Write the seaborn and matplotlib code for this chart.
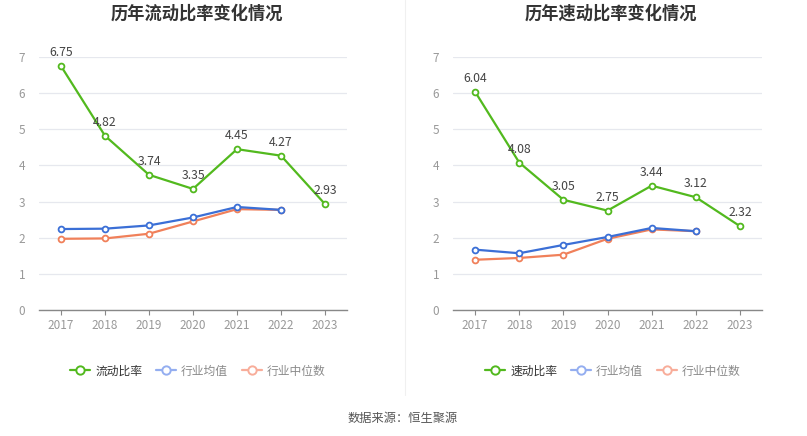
import matplotlib
matplotlib.use("Agg")
import matplotlib.pyplot as plt
from matplotlib.lines import Line2D
import seaborn as sns
import numpy as np

years = ["2017", "2018", "2019", "2020", "2021", "2022", "2023"]

current_ratio = [6.75, 4.82, 3.74, 3.35, 4.45, 4.27, 2.93]
current_ind_mean = [2.24, 2.25, 2.34, 2.56, 2.85, 2.77, np.nan]
current_ind_median = [1.97, 1.98, 2.11, 2.45, 2.79, 2.77, np.nan]

quick_ratio = [6.04, 4.08, 3.05, 2.75, 3.44, 3.12, 2.32]
quick_ind_mean = [1.67, 1.57, 1.80, 2.02, 2.27, 2.18, np.nan]
quick_ind_median = [1.39, 1.44, 1.53, 1.97, 2.23, 2.18, np.nan]

titles = ["历年流动比率变化情况", "历年速动比率变化情况"]
main_names = ["流动比率", "速动比率"]
ind_names = ["行业均值", "行业中位数"]
source = "数据来源：恒生聚源"

GREEN = "#52b91e"
BLUE = "#3b6fd6"
ORANGE = "#f0805a"
GREEN_L = "#52b91e"
BLUE_L = "#94aef0"
ORANGE_L = "#f8ad9a"

sns.set_theme(style="white")
plt.rcParams["font.family"] = ["Noto Sans CJK SC", "DejaVu Sans"]

fig = plt.figure(figsize=(8.07, 4.36), dpi=100)
W, H = 807, 436

def make_ax(x0, x1, y0, y1):
    return fig.add_axes([x0 / W, 1 - y1 / H, (x1 - x0) / W, (y1 - y0) / H])

axes = [make_ax(39, 347, 57, 310), make_ax(453, 762, 57, 310)]
datasets = [
    (current_ratio, current_ind_mean, current_ind_median),
    (quick_ratio, quick_ind_mean, quick_ind_median),
]

for ax, (main, mean, med), title in zip(axes, datasets, titles):
    x = np.arange(len(years))
    for vals, col, z in [(med, ORANGE, 3), (mean, BLUE, 4), (main, GREEN, 5)]:
        v = np.array(vals, dtype=float)
        sns.lineplot(x=x, y=v, ax=ax, color=col, linewidth=1.6, marker="o",
                     markersize=4.2, markerfacecolor="white", markeredgecolor=col,
                     markeredgewidth=1.3, zorder=z)
    for xi, v in zip(x, main):
        ax.annotate(f"{v:.2f}", (xi, v), xytext=(0, 5), textcoords="offset points",
                    ha="center", va="bottom", fontsize=8.8, color="#444444", zorder=6)
    ax.set_xlim(-0.5, len(years) - 0.5)
    ax.set_ylim(0, 7)
    ax.set_xticks(x)
    ax.set_xticklabels(years)
    ax.set_yticks(range(0, 8))
    ax.tick_params(axis="y", length=0, labelsize=8.5, labelcolor="#999999", pad=10)
    ax.tick_params(axis="x", length=3.5, width=0.8, color="#888888", labelsize=8.5,
                   labelcolor="#999999", pad=3, direction="out", bottom=True)
    ax.grid(axis="y", color="#e6e8ee", linewidth=0.9)
    ax.grid(axis="x", visible=False)
    for s in ["top", "right", "left"]:
        ax.spines[s].set_visible(False)
    ax.spines["bottom"].set_color("#888888")
    ax.spines["bottom"].set_linewidth(1.0)
    ax.set_xlabel("")
    ax.set_ylabel("")
    ax.set_axisbelow(True)

fig.text(197 / W, 1 - 14 / H, titles[0], ha="center", va="center", fontsize=12.4,
         fontweight="bold", color="#333333")
fig.text(611 / W, 1 - 14 / H, titles[1], ha="center", va="center", fontsize=12.4,
         fontweight="bold", color="#333333")

# divider
fig.add_artist(Line2D([405 / W, 405 / W], [1 - 0 / H, 1 - 395 / H], color="#f0f0f0",
                      linewidth=0.8, transform=fig.transFigure))

def legend_handles(main_name):
    hs = [
        Line2D([], [], color=c, marker="o", markersize=6, markerfacecolor="white",
               markeredgewidth=1.4, linewidth=1.6)
        for c in (GREEN_L, BLUE_L, ORANGE_L)
    ]
    return hs, [main_name] + ind_names

for cx, name in [(198 / W, main_names[0]), (613 / W, main_names[1])]:
    hs, labs = legend_handles(name)
    leg = fig.legend(hs, labs, loc="center", bbox_to_anchor=(cx, 1 - 371 / H), ncol=3,
                     frameon=False, fontsize=8.5, handlelength=1.7, handletextpad=0.4,
                     columnspacing=1.2)
    for i, t in enumerate(leg.get_texts()):
        t.set_color("#333333" if i == 0 else "#8a8a8a")

fig.text(403 / W, 1 - 418 / H, source, ha="center", va="center", fontsize=8.8,
         color="#555555")

fig.savefig("out.png", dpi=100)
